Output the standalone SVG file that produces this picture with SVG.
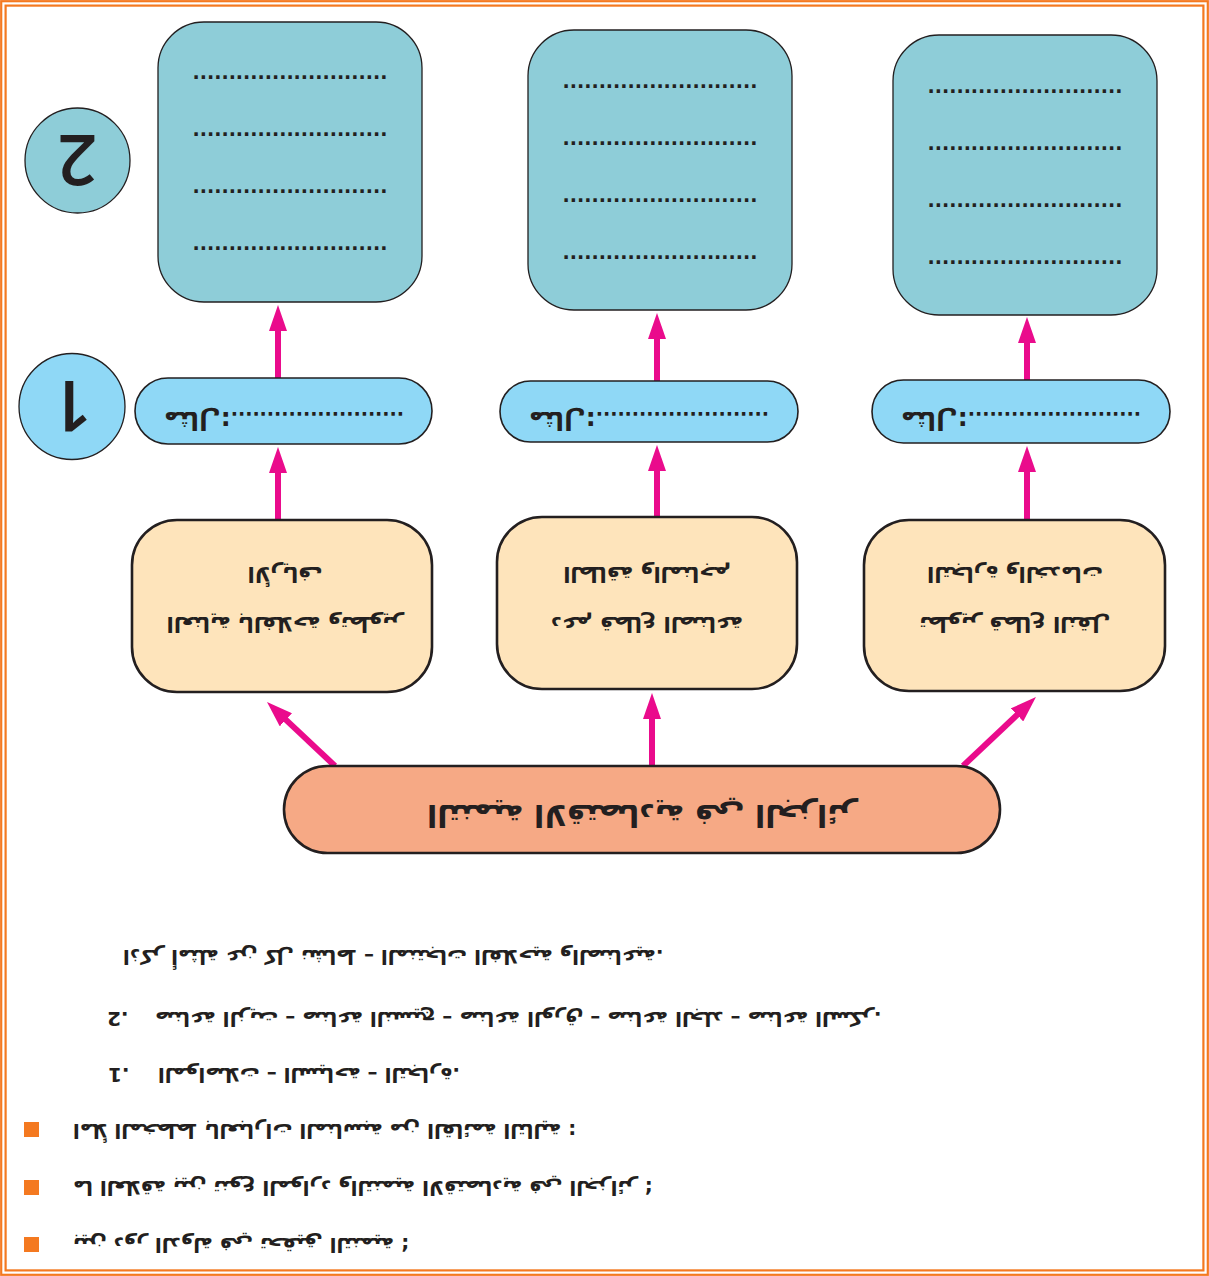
<svg xmlns="http://www.w3.org/2000/svg" width="1209" height="1276" viewBox="0 0 1209 1276">
<defs>
<style>
.frame{fill:none;stroke:#f47920;stroke-width:2.2}
.teal{fill:#8ecdd8;stroke:#231f20;stroke-width:1.3}
.pill{fill:#8fd8f6;stroke:#231f20;stroke-width:1.6}
.peach{fill:#fee4bb;stroke:#231f20;stroke-width:2.6}
.salmon{fill:#f6a985;stroke:#231f20;stroke-width:2.6}
.ar{font-family:"DejaVu Sans",sans-serif;font-weight:bold;fill:#231f20}
.dots{font-family:"DejaVu Sans",sans-serif;font-weight:bold;font-size:19px;fill:#231f20;text-anchor:middle}
.num{font-family:"Open Sans","DejaVu Sans",sans-serif;font-weight:600;font-size:70px;fill:#231f20;text-anchor:middle}
.arrow{stroke:#ea0b8c;stroke-width:6;fill:none;marker-end:url(#ah)}
.bullet{fill:#f47920}
</style>
<marker id="ah" markerUnits="userSpaceOnUse" viewBox="0 0 26 18" refX="1" refY="9" markerWidth="26" markerHeight="18" orient="auto"><path d="M0,0 L26,9 L0,18 z" fill="#ea0b8c"/></marker>
</defs>
<rect x="0" y="0" width="1209" height="1276" fill="#ffffff"/>
<rect class="frame" x="1.2" y="1.2" width="1206.6" height="1273.6"/>
<rect class="frame" x="5.6" y="5.6" width="1197.8" height="1264.8"/>

<g id="connectors">
<line class="arrow" x1="278" y1="378" x2="278" y2="330"/>
<line class="arrow" x1="278" y1="520" x2="278" y2="472"/>
<line class="arrow" x1="657" y1="381" x2="657" y2="338"/>
<line class="arrow" x1="657" y1="517" x2="657" y2="470"/>
<line class="arrow" x1="1027" y1="380" x2="1027" y2="342"/>
<line class="arrow" x1="1027" y1="520" x2="1027" y2="471"/>
<line class="arrow" x1="652" y1="766" x2="652" y2="718"/>
<line class="arrow" x1="335" y1="766" x2="285.2" y2="719.1"/>
<line class="arrow" x1="963" y1="766" x2="1017.8" y2="714.2"/>
</g>

<g id="circle-2">
<circle cx="77.5" cy="160.5" r="52.5" fill="#8ecdd8" stroke="#231f20" stroke-width="1.3"/>
<text class="num" x="77.5" y="186" font-weight="500" transform="rotate(180 77.5 160.5)">2</text>
</g>
<g id="circle-1">
<circle cx="72" cy="406.5" r="53" fill="#8fd8f6" stroke="#231f20" stroke-width="1.3"/>
<text class="num" x="72" y="432" transform="rotate(180 72 406.5)">1</text>
</g>

<g id="answer-a">
<rect class="teal" x="158" y="22" width="264" height="280" rx="46"/>
<text class="dots" x="290" y="78.7">...........................</text>
<text class="dots" x="290" y="135.7">...........................</text>
<text class="dots" x="290" y="192.7">...........................</text>
<text class="dots" x="290" y="249.7">...........................</text>
</g>
<g id="answer-b">
<rect class="teal" x="528" y="30" width="264" height="280" rx="46"/>
<text class="dots" x="660" y="87.7">...........................</text>
<text class="dots" x="660" y="144.7">...........................</text>
<text class="dots" x="660" y="201.7">...........................</text>
<text class="dots" x="660" y="258.7">...........................</text>
</g>
<g id="answer-c">
<rect class="teal" x="893" y="35" width="264" height="280" rx="46"/>
<text class="dots" x="1025" y="92.7">...........................</text>
<text class="dots" x="1025" y="149.7">...........................</text>
<text class="dots" x="1025" y="206.7">...........................</text>
<text class="dots" x="1025" y="263.7">...........................</text>
</g>

<g id="example-a">
<rect class="pill" x="135" y="378" width="297" height="66" rx="33"/>
<text class="ar" font-size="19" direction="rtl" text-anchor="middle" x="284" y="412" transform="rotate(180 284 412)"><tspan font-size="25">مثال:</tspan>........................</text>
</g>
<g id="example-b">
<rect class="pill" x="500" y="381" width="298" height="61" rx="30.5"/>
<text class="ar" font-size="19" direction="rtl" text-anchor="middle" x="649" y="412" transform="rotate(180 649 412)"><tspan font-size="25">مثال:</tspan>........................</text>
</g>
<g id="example-c">
<rect class="pill" x="872" y="380" width="298" height="63" rx="31.5"/>
<text class="ar" font-size="19" direction="rtl" text-anchor="middle" x="1021" y="412" transform="rotate(180 1021 412)"><tspan font-size="25">مثال:</tspan>........................</text>
</g>

<g id="sector-a">
<rect class="peach" x="132" y="520" width="300" height="172" rx="45"/>
<g transform="rotate(180 285 597)">
<text class="ar" font-size="21" direction="rtl" text-anchor="middle" x="285" y="577">العناية بالفلاحة وتطوير</text>
<text class="ar" font-size="21" direction="rtl" text-anchor="middle" x="285" y="627">الأرياف</text>
</g>
</g>
<g id="sector-b">
<rect class="peach" x="497" y="517" width="300" height="172" rx="45"/>
<g transform="rotate(180 647 597)">
<text class="ar" font-size="21" direction="rtl" text-anchor="middle" x="647" y="577">دعم قطاع الصناعة</text>
<text class="ar" font-size="21" direction="rtl" text-anchor="middle" x="647" y="627">الطاقة والمناجم</text>
</g>
</g>
<g id="sector-c">
<rect class="peach" x="864" y="520" width="301" height="171" rx="45"/>
<g transform="rotate(180 1015 597)">
<text class="ar" font-size="21" direction="rtl" text-anchor="middle" x="1015" y="577">تطوير قطاع النقل</text>
<text class="ar" font-size="21" direction="rtl" text-anchor="middle" x="1015" y="627">التجارة والخدمات</text>
</g>
</g>

<g id="main-topic">
<rect class="salmon" x="284" y="766" width="716" height="87" rx="43.5"/>
<text class="ar" font-size="30" direction="rtl" text-anchor="middle" x="642" y="805" transform="rotate(180 642 805)">التنمية الاقتصادية في الجزائر</text>
</g>

<g id="notes">
<text class="ar" font-size="20" direction="rtl" text-anchor="start" x="123" y="950" transform="rotate(180 123 950)">اذكر أمثلة عن كل نشاط – المنتجات الفلاحية والصناعية.</text>
<text class="ar" font-size="20" direction="rtl" text-anchor="start" x="107" y="1012" transform="rotate(180 107 1012)">2.</text>
<text class="ar" font-size="20" direction="rtl" text-anchor="start" x="155" y="1012" transform="rotate(180 155 1012)">صناعة الزيت – صناعة النسيج – صناعة الورق – صناعة الجلد – صناعة السكر.</text>
<text class="ar" font-size="20" direction="rtl" text-anchor="start" x="108" y="1068" transform="rotate(180 108 1068)">1.</text>
<text class="ar" font-size="20" direction="rtl" text-anchor="start" x="158" y="1068" transform="rotate(180 158 1068)">المواصلات – السياحة – التجارة.</text>
<rect class="bullet" x="24" y="1122" width="15" height="15"/>
<text class="ar" font-size="20" direction="rtl" text-anchor="start" x="73" y="1124" transform="rotate(180 73 1124)">املأ المخطط بالعبارات المناسبة من القائمة التالية :</text>
<rect class="bullet" x="24" y="1180" width="15" height="15"/>
<text class="ar" font-size="20" direction="rtl" text-anchor="start" x="73" y="1181" transform="rotate(180 73 1181)">ما العلاقة بين تنوع الموارد والتنمية الاقتصادية في الجزائر ؛</text>
<rect class="bullet" x="24" y="1237" width="15" height="15"/>
<text class="ar" font-size="20" direction="rtl" text-anchor="start" x="73" y="1238" transform="rotate(180 73 1238)">بين دور الدولة في تحقيق التنمية ؛</text>
</g>
</svg>
